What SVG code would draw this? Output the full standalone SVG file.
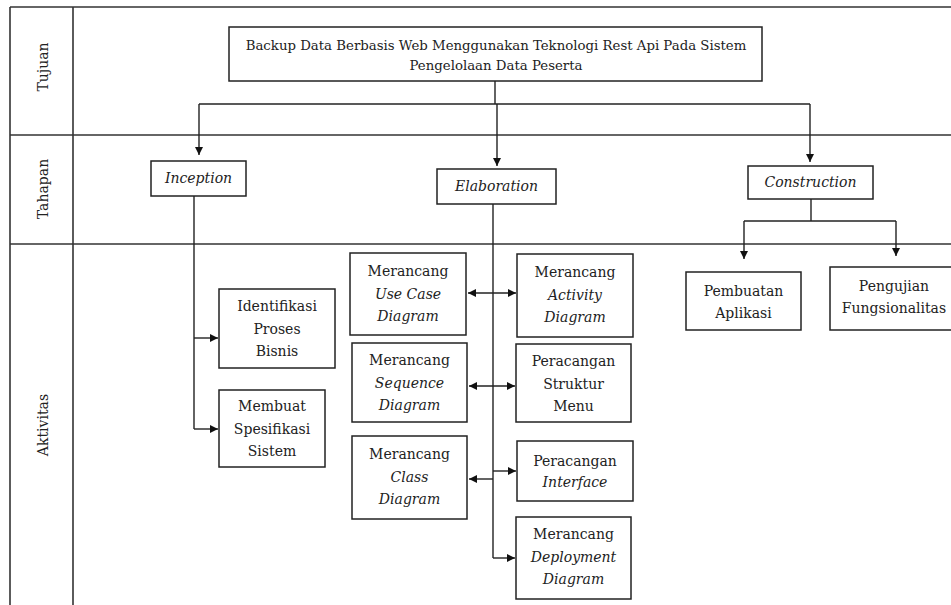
<svg xmlns="http://www.w3.org/2000/svg" width="951" height="605" viewBox="0 0 951 605">
  <defs>
    <marker id="arrow" viewBox="0 0 8 8" refX="8" refY="4" markerWidth="8" markerHeight="8" markerUnits="userSpaceOnUse" orient="auto-start-reverse">
      <path d="M0,0 L8,4 L0,8 z" fill="#111"/>
    </marker>
    <style>
      .frame { stroke: #333; stroke-width: 1.6; fill: none; }
      .box { fill: #fff; stroke: #222; stroke-width: 1.5; }
      .wire { fill: none; stroke: #222; stroke-width: 1.4; }
      text { font-family: "DejaVu Serif", "Liberation Serif", serif; fill: #222; text-anchor: middle; }
      .t { font-size: 14px; }
      .title { font-size: 13.3px; }
      .lane { font-size: 14px; dominant-baseline: central; }
      .i { font-style: italic; }
    </style>
  </defs>

  <rect width="951" height="605" fill="#fff"/>

  <!-- swimlane frame -->
  <g id="lanes">
    <line class="frame" x1="10" y1="7" x2="951" y2="7"/>
    <line class="frame" x1="10" y1="135" x2="951" y2="135"/>
    <line class="frame" x1="10" y1="244" x2="951" y2="244"/>
    <line class="frame" x1="10" y1="7" x2="10" y2="605"/>
    <line class="frame" x1="73" y1="7" x2="73" y2="605"/>
    <text class="lane" transform="translate(43,67) rotate(-90)">Tujuan</text>
    <text class="lane" transform="translate(43,189) rotate(-90)">Tahapan</text>
    <text class="lane" transform="translate(43,425) rotate(-90)">Aktivitas</text>
  </g>

  <!-- connectors -->
  <g id="connectors">
    <path class="wire" d="M495,81 V104"/>
    <path class="wire" d="M199,104 H810"/>
    <path class="wire" d="M199,104 V155" marker-end="url(#arrow)"/>
    <path class="wire" d="M497,104 V166" marker-end="url(#arrow)"/>
    <path class="wire" d="M810,104 V162" marker-end="url(#arrow)"/>

    <path class="wire" d="M194,196 V429"/>
    <path class="wire" d="M194,338 H218" marker-end="url(#arrow)"/>
    <path class="wire" d="M194,429 H218" marker-end="url(#arrow)"/>

    <path class="wire" d="M493,204 V558"/>
    <path class="wire" d="M468,293 H516" marker-start="url(#arrow)" marker-end="url(#arrow)"/>
    <path class="wire" d="M469,386 H515" marker-start="url(#arrow)" marker-end="url(#arrow)"/>
    <path class="wire" d="M493,479 H469" marker-end="url(#arrow)"/>
    <path class="wire" d="M493,471 H516" marker-end="url(#arrow)"/>
    <path class="wire" d="M493,558 H515" marker-end="url(#arrow)"/>

    <path class="wire" d="M811,199 V221"/>
    <path class="wire" d="M744,221 H896"/>
    <path class="wire" d="M744,221 V259" marker-end="url(#arrow)"/>
    <path class="wire" d="M896,221 V256" marker-end="url(#arrow)"/>
  </g>

  <!-- goal -->
  <g id="tujuan">
    <rect class="box" x="229" y="27" width="533" height="54"/>
    <text class="title" x="496" y="50">Backup Data Berbasis Web Menggunakan Teknologi Rest Api Pada Sistem</text>
    <text class="title" x="496" y="70">Pengelolaan Data Peserta</text>
  </g>

  <!-- phases -->
  <g id="inception">
    <rect class="box" x="151" y="161" width="95" height="35"/>
    <text class="t i" x="198.5" y="183">Inception</text>
  </g>
  <g id="elaboration">
    <rect class="box" x="437" y="169" width="119" height="35"/>
    <text class="t i" x="496.5" y="191">Elaboration</text>
  </g>
  <g id="construction">
    <rect class="box" x="748" y="166" width="125" height="33"/>
    <text class="t i" x="810.5" y="187">Construction</text>
  </g>

  <!-- inception activities -->
  <g id="identifikasi">
    <rect class="box" x="219" y="289" width="116" height="79"/>
    <text class="t" x="277" y="311">Identifikasi</text>
    <text class="t" x="277" y="334">Proses</text>
    <text class="t" x="277" y="356">Bisnis</text>
  </g>
  <g id="spesifikasi">
    <rect class="box" x="219" y="390" width="106" height="77"/>
    <text class="t" x="272" y="411">Membuat</text>
    <text class="t" x="272" y="434">Spesifikasi</text>
    <text class="t" x="272" y="456">Sistem</text>
  </g>

  <!-- elaboration activities -->
  <g id="usecase">
    <rect class="box" x="350" y="253" width="116" height="82"/>
    <text class="t" x="408" y="276">Merancang</text>
    <text class="t i" x="408" y="299">Use Case</text>
    <text class="t i" x="408" y="321">Diagram</text>
  </g>
  <g id="activity">
    <rect class="box" x="517" y="254" width="116" height="83"/>
    <text class="t" x="575" y="277">Merancang</text>
    <text class="t i" x="575" y="300">Activity</text>
    <text class="t i" x="575" y="322">Diagram</text>
  </g>
  <g id="sequence">
    <rect class="box" x="352" y="343" width="115" height="79"/>
    <text class="t" x="409.5" y="365">Merancang</text>
    <text class="t i" x="409.5" y="388">Sequence</text>
    <text class="t i" x="409.5" y="410">Diagram</text>
  </g>
  <g id="struktur">
    <rect class="box" x="516" y="344" width="115" height="78"/>
    <text class="t" x="573.5" y="366">Peracangan</text>
    <text class="t" x="573.5" y="389">Struktur</text>
    <text class="t" x="573.5" y="411">Menu</text>
  </g>
  <g id="class">
    <rect class="box" x="352" y="436" width="115" height="83"/>
    <text class="t" x="409.5" y="459">Merancang</text>
    <text class="t i" x="409.5" y="482">Class</text>
    <text class="t i" x="409.5" y="504">Diagram</text>
  </g>
  <g id="interface">
    <rect class="box" x="517" y="441" width="116" height="60"/>
    <text class="t" x="575" y="466">Peracangan</text>
    <text class="t i" x="575" y="487">Interface</text>
  </g>
  <g id="deployment">
    <rect class="box" x="516" y="517" width="115" height="82"/>
    <text class="t" x="573.5" y="539">Merancang</text>
    <text class="t i" x="573.5" y="562">Deployment</text>
    <text class="t i" x="573.5" y="584">Diagram</text>
  </g>

  <!-- construction activities -->
  <g id="pembuatan">
    <rect class="box" x="686" y="272" width="115" height="58"/>
    <text class="t" x="743.5" y="296">Pembuatan</text>
    <text class="t" x="743.5" y="318">Aplikasi</text>
  </g>
  <g id="pengujian">
    <rect class="box" x="830" y="267" width="130" height="63"/>
    <text class="t" x="894" y="291">Pengujian</text>
    <text class="t" x="894" y="313">Fungsionalitas</text>
  </g>
</svg>
